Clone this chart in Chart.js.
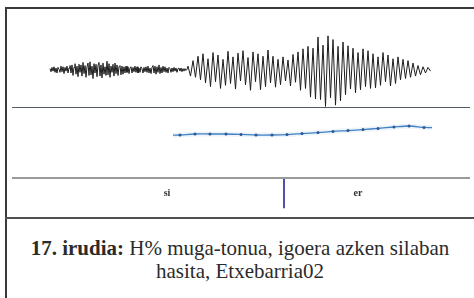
<!DOCTYPE html>
<html>
<head>
<meta charset="utf-8">
<script src="https://cdn.jsdelivr.net/npm/chart.js@4.4.0/dist/chart.umd.min.js"></script>
<style>
  html, body { margin: 0; padding: 0; background: #fff; }
  #fig { position: relative; width: 474px; height: 298px; overflow: hidden; }
  .box { position: absolute; }
  .rule { position: absolute; z-index: 2; }
  #caption {
    position: absolute; left: 6px; right: 0; top: 237px;
    text-align: center; font-family: "Liberation Serif", serif;
    font-size: 21px; line-height: 23px; color: #2b2b2b;
  }
</style>
</head>
<body>
<div id="fig">
  <div class="box" style="left:12px; top:8px; width:458px; height:99px;"><canvas id="wave"></canvas></div>
  <div class="box" style="left:12px; top:107px; width:458px; height:70px;"><canvas id="pitch"></canvas></div>
  <div class="box" style="left:12px; top:177px; width:458px; height:41px;"><canvas id="tier"></canvas></div>

  <div class="rule" style="left:5px; top:7px; width:469px; height:2px; background:#3a3a3a;"></div>
  <div class="rule" style="left:5px; top:7px; width:2px; height:291px; background:#3a3a3a;"></div>
  <div class="rule" style="left:12px; top:107px; width:458px; height:1px; background:#555b66;"></div>
  <div class="rule" style="left:12px; top:177px; width:458px; height:1.5px; background:#9a9a9a;"></div>
  <div class="rule" style="left:5px; top:217px; width:469px; height:2px; background:#505050;"></div>

  <div id="caption"><b>17. irudia:</b> H% muga-tonua, igoera azken silaban<br>hasita, Etxebarria02</div>
</div>
<script>
// time axis of the whole recording (ms)
const timeMin = 0;
const timeMax = 458;

// waveform: fricative noise part, one sample per ms
const noiseStart = 38;
const noiseStep = 1;
const noiseAmp = [
  0.02, -0.03, 0.04, -0.02, 0.05, -0.04, 0.03, -0.05, 0.04, 0.01,
  -0.04, 0.06, -0.03, 0.05, -0.06, 0.04, -0.02, 0.06, -0.05, 0.03,
  0.07, -0.05, 0.08, -0.09, 0.04, 0.10, -0.07, 0.06, -0.11, 0.09,
  -0.04, 0.08, -0.10, 0.12, -0.06, 0.07, -0.12, 0.05, 0.11, -0.09,
  0.13, -0.08, 0.06, -0.14, 0.10, -0.05, 0.09, -0.11, 0.07, 0.12,
  -0.10, 0.08, -0.13, 0.11, -0.07, 0.05, -0.09, 0.14, -0.08, 0.10,
  -0.12, 0.06, -0.04, 0.09, -0.10, 0.11, -0.06, 0.08, -0.09, 0.05,
  0.07, -0.08, 0.06, -0.07, 0.05,
  -0.05, 0.06, -0.04, 0.05, -0.06, 0.03, 0.05, -0.05, 0.04, -0.03,
  0.06, -0.04, 0.05, -0.05, 0.03, -0.04, 0.05, 0.02, -0.05, 0.04,
  -0.03, 0.05, -0.04, 0.06, -0.05, 0.03, -0.06, 0.04, 0.07, -0.05,
  0.06, -0.07, 0.05, -0.04, 0.08, -0.06, 0.04, -0.05, 0.06, -0.03,
  0.05, -0.04, 0.03, -0.05, 0.04, 0.02, -0.04, 0.03, -0.03, 0.04,
  -0.02, 0.03, -0.04, 0.02, 0.03, -0.02, 0.03, -0.03, 0.02, -0.02,
  0.02, -0.01, 0.01
];

// waveform: voiced part, peaks every 2.5 ms
const voicedStart = 176;
const voicedStep = 2.5;
const voicedAmp = [
  0.06, -0.10, 0.15, -0.12,
  0.22, -0.16, 0.26, -0.21, 0.18, -0.27,
  0.28, -0.19, 0.24, -0.30, 0.17, -0.25, 0.30, -0.22, 0.21, -0.31, 0.27, -0.18,
  0.31, -0.24, 0.20, -0.33, 0.29, -0.19, 0.26, -0.32, 0.22, -0.27, 0.32, -0.21,
  0.22, -0.28, 0.17, -0.24, 0.21, -0.18, 0.16, -0.26, 0.25, -0.20, 0.29, -0.33,
  0.34, -0.30, 0.38, -0.44, 0.35, -0.47,
  0.53, -0.48, 0.40, -0.59, 0.55, -0.45, 0.49, -0.57, 0.38, -0.50, 0.45, -0.40,
  0.39, -0.31, 0.35, -0.37, 0.28, -0.32, 0.34, -0.27, 0.31, -0.30,
  0.26, -0.29, 0.21, -0.25, 0.28, -0.19, 0.24, -0.26, 0.18, -0.22, 0.21, -0.16,
  0.17, -0.14, 0.15, -0.12, 0.11, -0.10,
  0.07, -0.08, 0.05, -0.05, 0.04, -0.02
];

// pitch contour (Hz), first and last entries are line ends without a marker
const pitchTimes = [161, 168, 183, 198, 214, 229, 244, 260, 275, 290, 306, 321, 336, 351, 366, 382, 397, 412, 420];
const pitchHz    = [259, 260, 265, 265, 265, 263, 260, 260, 262, 267, 272, 278, 282, 287, 293, 300, 305, 298, 297];

// text tier
const tierBounds = [38, 272, 420];
const tierLabels = ['si', 'er'];

const waveData = noiseAmp.map((v, i) => ({ x: noiseStart + i * noiseStep, y: v }))
  .concat(voicedAmp.map((v, i) => ({ x: voicedStart + i * voicedStep, y: v })));
const pitchData = pitchTimes.map((t, i) => ({ x: t, y: pitchHz[i] }));

const hiddenX = { type: 'linear', min: timeMin, max: timeMax, display: false };
const base = {
  responsive: true,
  maintainAspectRatio: false,
  animation: false,
  layout: { padding: 0 },
  plugins: { legend: { display: false }, tooltip: { enabled: false } },
  events: []
};

new Chart(document.getElementById('wave'), {
  type: 'line',
  data: {
    datasets: [{
      data: waveData,
      borderColor: '#1c1c1c',
      borderWidth: 1,
      pointRadius: 0,
      tension: 0
    }]
  },
  options: {
    ...base,
    scales: { x: hiddenX, y: { min: -0.6, max: 1.0, display: false } }
  }
});

const lastPitch = pitchData.length - 1;
new Chart(document.getElementById('pitch'), {
  type: 'line',
  data: {
    datasets: [
      {
        data: pitchData,
        borderColor: 'rgba(90,150,210,0.10)',
        borderWidth: 5,
        pointRadius: 0,
        tension: 0.3
      },
      {
        data: pitchData,
        borderColor: '#3f80c2',
        borderWidth: 1.3,
        tension: 0.3,
        pointRadius: ctx => (ctx.dataIndex === 0 || ctx.dataIndex === lastPitch) ? 0 : 1.5,
        pointBackgroundColor: '#24528c',
        pointBorderWidth: 0
      }
    ]
  },
  options: {
    ...base,
    scales: { x: hiddenX, y: { min: 50, max: 400, display: false } }
  }
});

const tierPlugin = {
  id: 'tier',
  afterDatasetsDraw(chart) {
    const { ctx, scales: { x, y } } = chart;
    ctx.save();
    // interior boundary
    for (let i = 1; i < tierBounds.length - 1; i++) {
      const px = x.getPixelForValue(tierBounds[i]);
      ctx.strokeStyle = '#5050a8';
      ctx.lineWidth = 2;
      ctx.beginPath();
      ctx.moveTo(px, y.getPixelForValue(1));
      ctx.lineTo(px, y.getPixelForValue(0.24));
      ctx.stroke();
    }
    ctx.fillStyle = '#333';
    ctx.font = 'bold 10px "Liberation Serif", serif';
    ctx.textAlign = 'center';
    ctx.textBaseline = 'middle';
    tierLabels.forEach((lab, i) => {
      const mid = (tierBounds[i] + tierBounds[i + 1]) / 2;
      ctx.fillText(lab, x.getPixelForValue(mid), y.getPixelForValue(0.6));
    });
    ctx.restore();
  }
};

new Chart(document.getElementById('tier'), {
  type: 'line',
  data: { datasets: [{ data: [], pointRadius: 0 }] },
  options: {
    ...base,
    scales: { x: hiddenX, y: { min: 0, max: 1, display: false } }
  },
  plugins: [tierPlugin]
});
</script>
</body>
</html>
